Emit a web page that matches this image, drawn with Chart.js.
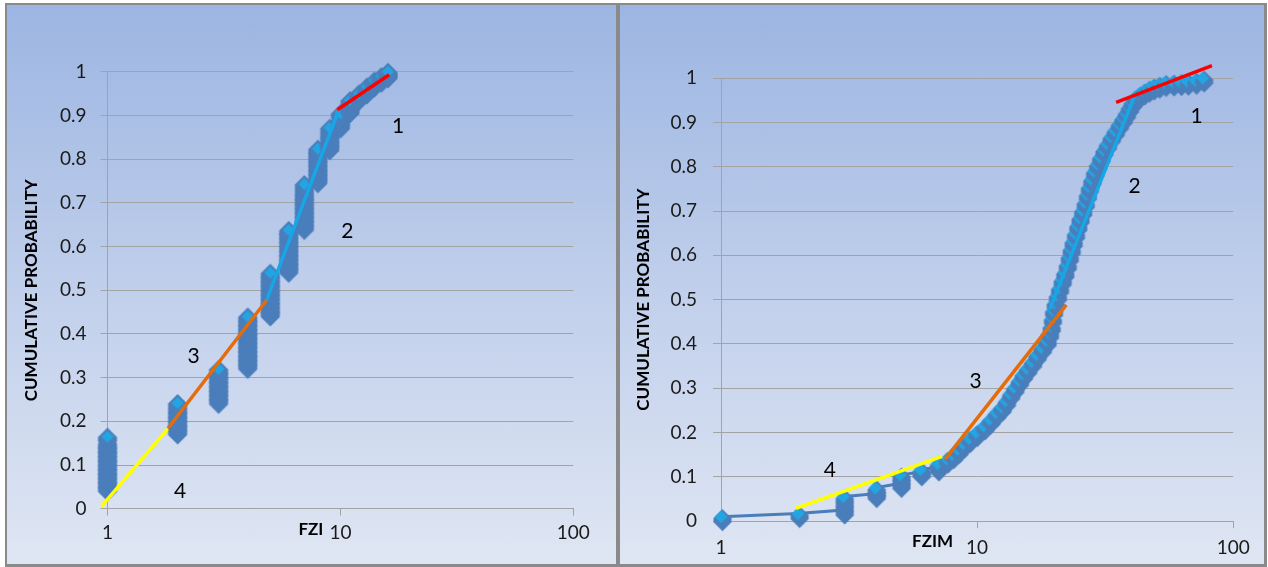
<!DOCTYPE html>
<html>
<head>
<meta charset="utf-8">
<script src="https://cdn.jsdelivr.net/npm/chart.js@4.4.1/dist/chart.umd.min.js"></script>
<style>
  body { margin: 0; background: #fff; }
  #frame { position: absolute; left: 5px; top: 3px; width: 1262px; height: 564px; background: #8a8a8a; }
  .panel { position: absolute; top: 2px; height: 559px;
           background: linear-gradient(to bottom, #9cb5e2 0%, #c3d1ec 55%, #dfe6f3 100%); }
  #left { left: 2px; width: 609px; }
  #right { left: 615px; width: 644px; }
  canvas { display: block; }
</style>
</head>
<body>
<div id="frame">
  <div class="panel" id="left"><canvas id="fziChart" width="609" height="559"></canvas></div>
  <div class="panel" id="right"><canvas id="fzimChart" width="644" height="559"></canvas></div>
</div>
<script>
// shared axis ticks
const logTicks = [1, 10, 100];
const probTicks = [0, 0.1, 0.2, 0.3, 0.4, 0.5, 0.6, 0.7, 0.8, 0.9, 1];

// left chart: FZI values and the cumulative probabilities stacked on each
const fziValues = [1, 2, 3, 4, 5, 6, 7, 8, 9, 10, 11, 12, 13, 14, 15, 16];
const fziProb = [
  [0.05, 0.06, 0.07, 0.08, 0.09, 0.10, 0.11, 0.12, 0.13, 0.14, 0.15, 0.165],
  [0.18, 0.19, 0.20, 0.21, 0.22, 0.23, 0.242],
  [0.25, 0.26, 0.27, 0.28, 0.29, 0.30, 0.31, 0.32],
  [0.33, 0.34, 0.35, 0.36, 0.37, 0.38, 0.39, 0.40, 0.41, 0.42, 0.43, 0.44],
  [0.45, 0.46, 0.47, 0.48, 0.49, 0.50, 0.51, 0.52, 0.53, 0.54],
  [0.55, 0.56, 0.57, 0.58, 0.59, 0.60, 0.61, 0.62, 0.63, 0.638],
  [0.648, 0.658, 0.668, 0.678, 0.688, 0.698, 0.708, 0.718, 0.73, 0.743],
  [0.755, 0.765, 0.775, 0.785, 0.795, 0.805, 0.815, 0.824],
  [0.83, 0.84, 0.85, 0.86, 0.872],
  [0.88, 0.89, 0.905],
  [0.915, 0.925, 0.935],
  [0.943, 0.95],
  [0.958, 0.966],
  [0.974, 0.98],
  [0.985, 0.99],
  [0.995, 1.0]
];
// fitted segments, numbered as in the picture
const fziFit1X = [9.7, 16.2],  fziFit1Y = [0.913, 0.993];
const fziFit2X = [4.82, 9.8],  fziFit2Y = [0.477, 0.91];
const fziFit3X = [1.82, 4.82], fziFit3Y = [0.184, 0.477];
const fziFit4X = [0.94, 1.81], fziFit4Y = [0.005, 0.182];
const fziNoteText = ['1', '2', '3', '4'];
const fziNoteX = [17.7, 10.7, 2.34, 2.05];
const fziNoteY = [0.875, 0.634, 0.349, 0.04];

// right chart: FZIM values with their cumulative probabilities
const fzimValues = [1, 2, 3, 3, 3, 3, 4, 4, 4, 5, 5, 5, 6, 6, 7, 7,
  7.6, 8.0, 8.4, 8.8, 9.3, 9.9, 10.6, 11.2, 11.8, 12.4, 12.9, 13.4, 13.9, 14.5, 15.0, 15.6,
  16.3, 17.0, 17.8, 18.6, 19.0, 19.3, 19.5, 19.7, 20.0, 20.4, 20.8, 21.3, 21.8, 22.3, 22.7,
  23.1, 23.5, 24.0, 24.5, 25.0, 25.6, 26.2, 26.7, 27.2, 27.8, 28.5, 29.3, 30.1, 31.0, 32.0,
  33.1, 34.3, 35.6, 36.8, 37.9, 39.0, 40.0, 41.2, 42.8, 44.6, 46.5, 48.5, 51, 54, 58, 62, 66, 71, 76];
const fzimProb = [0.01, 0.017, 0.025, 0.035, 0.045, 0.055, 0.062, 0.068, 0.075, 0.085, 0.095, 0.104, 0.111, 0.116, 0.122, 0.13,
  0.14, 0.15, 0.162, 0.175, 0.187, 0.2, 0.215, 0.23, 0.245, 0.258, 0.272, 0.288, 0.302, 0.318, 0.332, 0.345,
  0.36, 0.376, 0.392, 0.408, 0.425, 0.44, 0.458, 0.476, 0.493, 0.51, 0.527, 0.545, 0.562, 0.58, 0.598,
  0.615, 0.632, 0.65, 0.668, 0.685, 0.702, 0.72, 0.738, 0.755, 0.772, 0.79, 0.806, 0.822, 0.838, 0.852,
  0.868, 0.882, 0.897, 0.91, 0.922, 0.935, 0.946, 0.956, 0.964, 0.971, 0.977, 0.982, 0.986, 0.99, 0.991, 0.992, 0.993, 0.995, 1.0];
const fzimFit1X = [34.9, 82.6], fzimFit1Y = [0.945, 1.028];
const fzimFit2X = [19.2, 41.2], fzimFit2Y = [0.478, 0.96];
const fzimFit3X = [7.5, 22.3],  fzimFit3Y = [0.14, 0.488];
const fzimFit4X = [1.96, 7.3],  fzimFit4Y = [0.029, 0.146];
const fzimNoteText = ['1', '2', '3', '4'];
const fzimNoteX = [72, 41.2, 9.86, 2.66];
const fzimNoteY = [0.915, 0.756, 0.315, 0.115];

const gridGrey = '#a3a3a3';
const fitColors = ['#ff0000', '#17a6e6', '#e46c0a', '#ffff00'];

// diamond face, optionally swept down by h to give the extruded body
function diamond(g, cx, cy, r, h, color) {
  g.beginPath();
  g.moveTo(cx, cy - r);
  g.lineTo(cx + r, cy);
  g.lineTo(cx + r, cy + h);
  g.lineTo(cx, cy + h + r);
  g.lineTo(cx - r, cy + h);
  g.lineTo(cx - r, cy);
  g.closePath();
  g.fillStyle = color;
  g.fill();
}

function makeMarker(m) {
  const half = Math.ceil(m.rDark + m.h + Math.max(m.dx, m.dy)) + 2;
  const c = document.createElement('canvas');
  c.width = c.height = half * 2;
  const g = c.getContext('2d');
  diamond(g, half + m.dx, half + m.dy, m.rDark, m.h, '#4a7ebb');
  diamond(g, half, half, m.rLight, 0, '#22a5e2');
  return c;
}

function zip(xs, ys) {
  return xs.map((x, i) => ({ x: x, y: ys[i] }));
}

function fitSet(xs, ys, color) {
  return {
    type: 'line', data: zip(xs, ys), borderColor: color, borderWidth: 3.5,
    pointRadius: 0, clip: false, order: 1
  };
}

const notesPlugin = {
  id: 'notes',
  afterDraw(chart, args, o) {
    const { ctx, chartArea } = chart;
    const x = chart.scales.x, y = chart.scales.y;
    ctx.save();
    ctx.fillStyle = '#000';
    ctx.textBaseline = 'middle';
    ctx.textAlign = 'center';
    ctx.font = '21px Lato';
    o.text.forEach((t, i) => {
      ctx.fillText(t, x.getPixelForValue(o.xs[i]), y.getPixelForValue(o.ys[i]));
    });
    // x axis title sits on the tick label row, just left of "10"
    ctx.font = 'bold 17px Lato';
    ctx.textAlign = 'right';
    ctx.fillText(o.title, x.getPixelForValue(10) - o.titleGap, chartArea.bottom + o.titleDrop);
    ctx.restore();
  }
};

function buildChart(id, points, showLine, fits, notes, box, marker) {
  const sets = [
    fitSet(fits[0][0], fits[0][1], fitColors[0]),
    fitSet(fits[1][0], fits[1][1], fitColors[1]),
    fitSet(fits[2][0], fits[2][1], fitColors[2]),
    fitSet(fits[3][0], fits[3][1], fitColors[3]),
    {
      type: 'scatter', data: points, showLine: showLine,
      borderColor: '#4a7ebb', borderWidth: 3,
      pointStyle: makeMarker(marker),
      pointRadius: 9, clip: false, order: 2
    }
  ];
  return new Chart(document.getElementById(id), {
    data: { datasets: sets },
    plugins: [notesPlugin],
    options: {
      responsive: false,
      animation: false,
      events: [],
      layout: { padding: { left: 0, top: box.top, right: box.right, bottom: 0 } },
      scales: {
        x: {
          type: 'logarithmic', min: 1, max: 100,
          afterBuildTicks: s => { s.ticks = logTicks.map(v => ({ value: v })); },
          afterFit: s => { s.height = box.xHeight; },
          grid: { drawOnChartArea: false, color: gridGrey, tickLength: 7 },
          border: { color: gridGrey },
          ticks: { color: '#1a1a1a', font: { family: 'Lato', size: 19 }, padding: box.xPad,
                   maxRotation: 0, callback: v => String(v) }
        },
        y: {
          type: 'linear', min: 0, max: 1,
          afterBuildTicks: s => { s.ticks = probTicks.map(v => ({ value: v })); },
          afterFit: s => { s.width = box.yWidth; },
          grid: { color: gridGrey, tickLength: box.yTick },
          border: { color: gridGrey },
          ticks: { color: '#1a1a1a', font: { family: 'Lato', size: 19 }, padding: box.yPad,
                   callback: v => String(v) },
          title: { display: true, text: 'CUMULATIVE PROBABILITY', color: '#000',
                   font: { family: 'Lato', size: 17, weight: 'bold' },
                   padding: { top: box.titlePad, bottom: 0 } }
        }
      },
      plugins: {
        legend: { display: false },
        tooltip: { enabled: false },
        notes: notes
      }
    }
  });
}

function init() {
  const fziPoints = fziValues.flatMap((v, i) => fziProb[i].map(p => ({ x: v, y: p })));
  buildChart('fziChart', fziPoints, false,
    [[fziFit1X, fziFit1Y], [fziFit2X, fziFit2Y], [fziFit3X, fziFit3Y], [fziFit4X, fziFit4Y]],
    { text: fziNoteText, xs: fziNoteX, ys: fziNoteY, title: 'FZI', titleGap: 17, titleDrop: 21 },
    { top: 66.7, right: 42.7, xHeight: 55.3, yWidth: 100.5, xPad: 6, yTick: 7, yPad: 14, titlePad: 14.4 },
    { rDark: 9.5, rLight: 6, h: 4.5, dx: 0, dy: 0.5 });

  buildChart('fzimChart', zip(fzimValues, fzimProb), true,
    [[fzimFit1X, fzimFit1Y], [fzimFit2X, fzimFit2Y], [fzimFit3X, fzimFit3Y], [fzimFit4X, fzimFit4Y]],
    { text: fzimNoteText, xs: fzimNoteX, ys: fzimNoteY, title: 'FZIM', titleGap: 24, titleDrop: 20 },
    { top: 73.1, right: 30.8, xHeight: 42.9, yWidth: 101, xPad: 8.5, yTick: 8, yPad: 16, titlePad: 13.3 },
    { rDark: 9, rLight: 6.5, h: 4, dx: 1.5, dy: 1.5 });
}

Promise.all([
  document.fonts.load('19px Lato'),
  document.fonts.load('bold 17px Lato')
]).then(init, init);
</script>
</body>
</html>
